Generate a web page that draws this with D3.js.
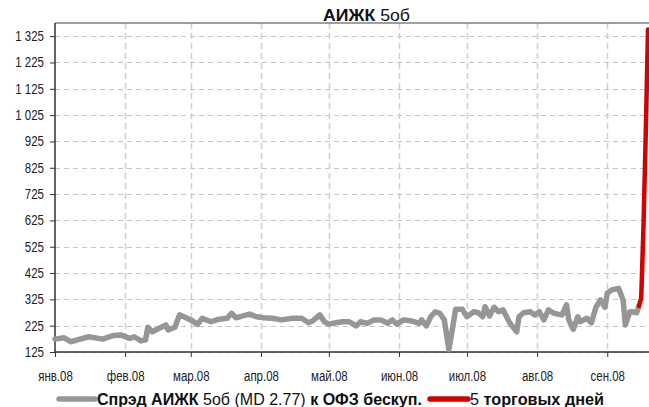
<!DOCTYPE html>
<html><head><meta charset="utf-8">
<script src="https://cdnjs.cloudflare.com/ajax/libs/d3/7.8.5/d3.min.js"></script>
<style>
body{margin:0;background:#fff;}
svg{display:block;font-family:"Liberation Sans",Arial,sans-serif;}
</style></head>
<body><svg id="c" width="649" height="407"></svg>
<script>
const spreadDates = ["2008-01-01","2008-01-05","2008-01-08","2008-01-12","2008-01-16","2008-01-22","2008-01-27","2008-01-30",
"2008-02-03","2008-02-05","2008-02-08","2008-02-10","2008-02-11","2008-02-13","2008-02-19","2008-02-20","2008-02-23","2008-02-25","2008-02-27",
"2008-03-01","2008-03-04","2008-03-06","2008-03-10","2008-03-13","2008-03-17","2008-03-19","2008-03-21","2008-03-24","2008-03-27","2008-03-30",
"2008-04-02","2008-04-06","2008-04-10","2008-04-15","2008-04-19","2008-04-22","2008-04-24","2008-04-27","2008-04-29",
"2008-05-01","2008-05-04","2008-05-07","2008-05-10","2008-05-13","2008-05-15","2008-05-18","2008-05-21","2008-05-24","2008-05-27","2008-05-29","2008-05-31",
"2008-06-03","2008-06-06","2008-06-10","2008-06-11","2008-06-13","2008-06-15","2008-06-17","2008-06-19","2008-06-21","2008-06-23","2008-06-24","2008-06-26","2008-06-29",
"2008-07-01","2008-07-04","2008-07-06","2008-07-08","2008-07-09","2008-07-11","2008-07-13","2008-07-15","2008-07-17","2008-07-20","2008-07-23","2008-07-24","2008-07-26","2008-07-29","2008-07-31",
"2008-08-02","2008-08-04","2008-08-06","2008-08-08","2008-08-10","2008-08-12","2008-08-14","2008-08-15","2008-08-17","2008-08-19","2008-08-20","2008-08-23","2008-08-25","2008-08-27","2008-08-29","2008-08-31",
"2008-09-01","2008-09-03","2008-09-06","2008-09-08","2008-09-09","2008-09-11","2008-09-12","2008-09-14","2008-09-15"];
const spreadValues = [174,179,164,174,183,174,188,190,
177,183,167,171,219,202,228,209,219,266,259,
247,230,253,240,249,253,272,255,262,269,259,
255,253,247,253,253,236,244,266,240,
231,236,240,240,224,240,234,247,247,234,247,231,
247,244,234,247,224,259,278,272,247,135,183,287,287,
259,278,274,259,297,262,295,278,285,234,202,259,274,278,266,
278,247,285,274,269,266,304,247,211,259,240,253,236,295,323,295,
348,361,367,323,228,278,278,274,300];
const crisisDates = ["2008-09-15","2008-09-16","2008-09-17","2008-09-18","2008-09-19"];
const crisisValues = [300,330,600,950,1350];
const yTicks = [125,225,325,425,525,625,725,825,925,1025,1125,1225,1325];
const monthLabels = ["янв.08","фев.08","мар.08","апр.08","май.08","июн.08","июл.08","авг.08","сен.08"];
const titleParts = [["АИЖК ",true],["5об",false]];
const legend1 = [["Спрэд АИЖК ",true],["5об (MD 2.77) ",false],["к ОФЗ бескуп.",true]];
const legend2 = [["5 ",false],["торговых дней",true]];

const NARROW = 0.82;
const parse = d3.timeParse("%Y-%m-%d");
const svg = d3.select("#c");
const L=55, R=648, T=23, B=352;
const x = d3.scaleTime().domain([parse("2008-01-01"), parse("2008-09-19")]).range([L,R]);
const y = d3.scaleLinear().domain([125,1375]).range([B,T]);
const monthTicks = d3.range(0,9).map(m=>new Date(2008,m,1));

// grid
const g = svg.append("g");
g.selectAll(".hg").data(yTicks).join("line")
 .attr("x1",L).attr("x2",649).attr("y1",d=>Math.round(y(d))+0.5).attr("y2",d=>Math.round(y(d))+0.5)
 .attr("stroke","#c4c4c4").attr("stroke-dasharray","5,4");
g.selectAll(".vg").data(monthTicks.slice(1)).join("line")
 .attr("x1",d=>Math.round(x(d))+0.5).attr("x2",d=>Math.round(x(d))+0.5).attr("y1",T).attr("y2",B)
 .attr("stroke","#cfcfcf").attr("stroke-width",1.5).attr("stroke-dasharray","6,4");

// top border
svg.append("line").attr("x1",L).attr("x2",649).attr("y1",T).attr("y2",T).attr("stroke","#7f7f7f").attr("stroke-width",1.5);

// y axis
const yAxis = d3.axisLeft(y).tickValues(yTicks).tickSize(5).tickPadding(6)
 .tickFormat(d=> d>=1000 ? Math.floor(d/1000)+" "+String(d%1000).padStart(3,"0") : String(d));
const ya = svg.append("g").attr("transform",`translate(${L},0)`).call(yAxis);
ya.select(".domain").attr("stroke","#333").attr("stroke-width",1.5).attr("d",`M0,${T}V${B}`);
ya.selectAll(".tick line").attr("stroke","#333");
ya.selectAll(".tick text").attr("font-size",14).attr("fill","#222").attr("font-family","inherit")
  .attr("x",-11/NARROW).attr("transform",`scale(${NARROW},1)`);

// x axis
const xAxis = d3.axisBottom(x).tickValues(monthTicks).tickSize(5).tickPadding(14)
 .tickFormat((d,i)=>monthLabels[i]);
const xa = svg.append("g").attr("transform",`translate(0,${B})`).call(xAxis);
xa.select(".domain").attr("stroke","#333").attr("stroke-width",1.5).attr("d",`M${L},0H649`);
xa.selectAll(".tick line").attr("stroke","#333");
xa.selectAll(".tick text").attr("font-size",14).attr("fill","#222").attr("font-family","inherit")
  .attr("transform",`scale(${NARROW},1)`);

// lines
const line = d3.line().x(d=>x(d[0])).y(d=>y(d[1]));
const s1 = spreadDates.map((d,i)=>[parse(d),spreadValues[i]]);
const s2 = crisisDates.map((d,i)=>[parse(d),crisisValues[i]]);
svg.append("path").attr("d",line(s1)).attr("fill","none").attr("stroke","#969696").attr("stroke-width",5.5).attr("stroke-linejoin","round").attr("stroke-linecap","round");
svg.append("path").attr("d",line(s2)).attr("fill","none").attr("stroke","#d40000").attr("stroke-width",4.5).attr("stroke-linejoin","round").attr("stroke-linecap","round");

// narrow text helper: fits text between x0 and x1
function fitText(parts, x0, x1, yy, size){
  const grp = svg.append("g");
  const t = grp.append("text").attr("x",0).attr("y",0).attr("font-size",size).attr("fill","#111");
  parts.forEach(([s,b])=>t.append("tspan").attr("font-weight",b?"bold":"normal").text(s));
  const w = t.node().getComputedTextLength();
  grp.attr("transform",`translate(${x0},${yy}) scale(${(x1-x0)/w},1)`);
  return grp;
}
fitText(titleParts, 323, 410, 21, 16.5);

// legend
svg.append("line").attr("x1",59).attr("x2",95).attr("y1",399).attr("y2",399).attr("stroke","#969696").attr("stroke-width",5.5).attr("stroke-linecap","round");
fitText(legend1, 97, 422, 405, 16.5);
svg.append("line").attr("x1",430).attr("x2",468).attr("y1",399).attr("y2",399).attr("stroke","#d40000").attr("stroke-width",5.5).attr("stroke-linecap","round");
fitText(legend2, 470, 604, 405, 16.5);
</script></body></html>
